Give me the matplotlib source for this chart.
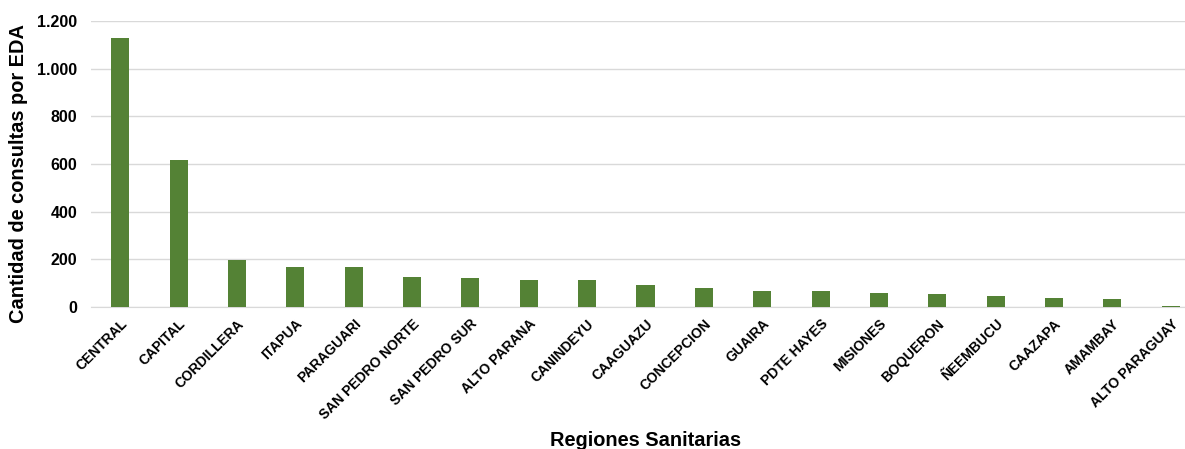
import matplotlib.pyplot as plt
from matplotlib.ticker import FuncFormatter

regiones = ["CENTRAL", "CAPITAL", "CORDILLERA", "ITAPUA", "PARAGUARI",
            "SAN PEDRO NORTE", "SAN PEDRO SUR", "ALTO PARANA", "CANINDEYU",
            "CAAGUAZU", "CONCEPCION", "GUAIRA", "PDTE HAYES", "MISIONES",
            "BOQUERON", "ÑEEMBUCU", "CAAZAPA", "AMAMBAY", "ALTO PARAGUAY"]
consultas = [1130, 618, 198, 168, 167, 125, 123, 112, 112,
             92, 80, 68, 68, 58, 54, 46, 37, 33, 5]
y_ticks = [0, 200, 400, 600, 800, 1000, 1200]

plt.rcParams['font.family'] = ['Liberation Sans', 'DejaVu Sans']
plt.rcParams['font.weight'] = 'bold'

fig = plt.figure(figsize=(11.85, 4.49), dpi=100)
ax = fig.add_axes([91 / 1185, 142 / 449, 1109 / 1185, 286 / 449])

x = range(len(regiones))
ax.bar(x, consultas, width=0.31, color='#548235', zorder=3)

ax.set_xlim(-0.5, len(regiones) - 0.5)
ax.set_ylim(0, 1200)
ax.set_yticks(y_ticks)
ax.yaxis.set_major_formatter(FuncFormatter(lambda v, p: f"{int(v):,}".replace(",", ".")))
ax.grid(axis='y', color='#d9d9d9', linewidth=1, zorder=0)
ax.tick_params(length=0)
ax.tick_params(axis='y', labelsize=11.5, pad=10)
for lbl in ax.get_yticklabels():
    lbl.set_fontweight('bold')

ax.set_xticks(list(x))
ax.set_xticklabels(regiones, rotation=45, ha='right', rotation_mode='anchor',
                   fontsize=10, fontweight='bold')
ax.tick_params(axis='x', pad=7)

for s in ['top', 'right', 'left']:
    ax.spines[s].set_visible(False)
ax.spines['bottom'].set_color('#d9d9d9')

ax.set_ylabel("Cantidad de consultas por EDA", fontsize=14.4, fontweight='bold')
ax.yaxis.set_label_coords(-63 / 1109, 0.467)
ax.set_xlabel("Regiones Sanitarias", fontsize=14.4, fontweight='bold')
ax.xaxis.set_label_coords(0.5, -124 / 286)

fig.savefig("out.png", dpi=100)
